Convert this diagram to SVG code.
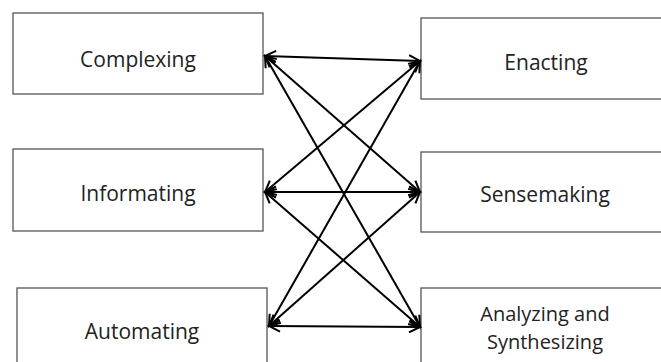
<svg xmlns="http://www.w3.org/2000/svg" width="661" height="362" viewBox="0 0 661 362">
<defs>
<style>
.box{fill:#fff;stroke:#555;stroke-width:1.3}
.lbl{font-family:"Open Sans","Liberation Sans",sans-serif;font-size:21px;fill:#222;text-anchor:middle}
.sm{font-size:20px}
.edge{stroke:#000;stroke-width:2;fill:none;marker-start:url(#ah);marker-end:url(#ah)}
</style>
<marker id="ah" markerUnits="userSpaceOnUse" markerWidth="14" markerHeight="14" viewBox="0 0 14 14" refX="12" refY="7" orient="auto-start-reverse">
<path d="M1,1.5 L12,7 L1,12.5" fill="none" stroke="#000" stroke-width="2"/>
</marker>
</defs>
<rect width="661" height="362" fill="#fff"/>
<g id="complexing"><rect class="box" x="13" y="13" width="250" height="81"/><text class="lbl" x="138" y="67">Complexing</text></g>
<g id="informating"><rect class="box" x="13" y="149" width="250" height="82"/><text class="lbl" x="138" y="201">Informating</text></g>
<g id="automating"><rect class="box" x="17" y="288" width="250" height="82"/><text class="lbl" x="142" y="339">Automating</text></g>
<g id="enacting"><rect class="box" x="421" y="18" width="250" height="81"/><text class="lbl" x="546" y="70">Enacting</text></g>
<g id="sensemaking"><rect class="box" x="421" y="152" width="250" height="80"/><text class="lbl" x="545" y="202">Sensemaking</text></g>
<g id="analyzing"><rect class="box" x="421" y="288" width="250" height="82"/><text class="lbl sm" x="545" y="321">Analyzing and</text><text class="lbl sm" x="545" y="349">Synthesizing</text></g>
<g id="connectors">
<line class="edge" x1="265" y1="56" x2="420" y2="61"/>
<line class="edge" x1="265" y1="56" x2="420" y2="192"/>
<line class="edge" x1="265" y1="56" x2="420" y2="327"/>
<line class="edge" x1="265" y1="192" x2="420" y2="61"/>
<line class="edge" x1="265" y1="192" x2="420" y2="192"/>
<line class="edge" x1="265" y1="192" x2="420" y2="327"/>
<line class="edge" x1="269" y1="326" x2="420" y2="61"/>
<line class="edge" x1="269" y1="326" x2="420" y2="192"/>
<line class="edge" x1="269" y1="326" x2="420" y2="327"/>
</g>
</svg>
